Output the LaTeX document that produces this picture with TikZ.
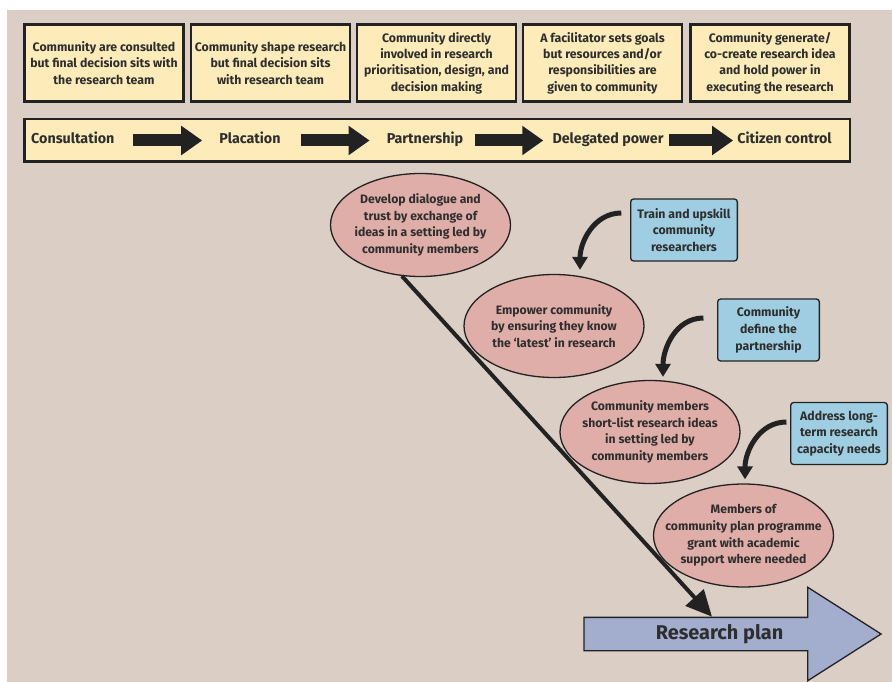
\documentclass[tikz,border=0pt]{standalone}
\usepackage{fontspec}
\setmainfont{Fira Sans}
\usetikzlibrary{positioning,shapes.geometric,shapes.arrows,arrows.meta}

\definecolor{bgc}{HTML}{DBCEC5}
\definecolor{boxyel}{HTML}{FDEBB9}
\definecolor{ideapink}{HTML}{E0AEA8}
\definecolor{taskblue}{HTML}{9FCEE2}
\definecolor{planblue}{HTML}{A3ADCE}
\definecolor{edge}{HTML}{222222}
\definecolor{ink}{HTML}{2E2E2E}

\begin{document}
\begin{tikzpicture}[x=1pt, y=-1pt,
  stage/.style={draw=edge, line width=2.5pt, fill=boxyel, minimum width=159pt, minimum height=77pt, align=center, text=ink, inner sep=0pt, font=\bfseries\fontsize{12.3}{16.3}\selectfont},
  lvl/.style={text=ink, inner sep=0pt, text height=10pt, text depth=3pt, font=\bfseries\fontsize{14.3}{16}\selectfont},
  blk/.style={draw=edge, line width=12pt, -{Triangle[length=21pt,width=28pt]}},
  idea/.style={ellipse, draw=edge, line width=1.3pt, fill=ideapink, minimum width=180pt, minimum height=103pt, align=center, text=ink, inner xsep=-20pt, inner ysep=-2pt, font=\bfseries\fontsize{12.2}{16.8}\selectfont},
  task/.style={draw=edge, line width=1.3pt, rounded corners=3pt, fill=taskblue, minimum height=62pt, align=center, text=ink, inner sep=0pt, font=\bfseries\fontsize{12.3}{16.8}\selectfont},
  feed/.style={draw=edge, line width=5pt, -{Triangle[length=13pt,width=15pt]}},
  trunk/.style={draw=edge, line width=4pt, -{Triangle[length=26pt,width=24pt]}},
  plan/.style={single arrow, draw=edge, line width=1.3pt, fill=planblue, minimum height=297pt, single arrow head extend=30pt, single arrow tip angle=65, text=ink, inner xsep=0pt, inner ysep=7pt, text height=14pt, text depth=4pt, font=\bfseries\fontsize{19.9}{22}\selectfont}]

  \useasboundingbox (0,0) rectangle (892,682);
  \fill[white] (0,0) rectangle (892,682);
  \fill[bgc] (7,10) rectangle (892,682);

  % Levels of involvement
  \node[stage] (s1) at (104,63) {Community are consulted\\but final decision sits with\\the research team};
  \node[stage] (s2) at (270.5,63) {Community shape research\\but final decision sits\\with research team};
  \node[stage] (s3) at (436.5,63) {Community directly\\involved in research\\prioritisation, design, and\\decision making};
  \node[stage] (s4) at (602.5,63) {A facilitator sets goals\\but resources and/or\\responsibilities are\\given to community};
  \node[stage] (s5) at (770,63) {Community generate/\\co-create research idea\\and hold power in\\executing the research};

  % Ladder bar
  \node[draw=edge, line width=2.5pt, fill=boxyel, minimum width=825.5pt, minimum height=42.5pt] (bar) at (437,140.5) {};
  \node[lvl, anchor=west] (consult) at (31,140.5) {Consultation};
  \node[lvl] (placat) at (250,140.5) {Placation};
  \node[lvl] (partner) at (425,140.5) {Partnership};
  \node[lvl] (deleg) at (608,140.5) {Delegated power};
  \node[lvl] (citizen) at (784.5,140.5) {Citizen control};

  \draw[blk, shorten <=18pt, shorten >=17pt] (consult.east) -- (placat.west);
  \draw[blk, shorten <=20pt, shorten >=17pt] (placat.east) -- (partner.west);
  \draw[blk, shorten <=12pt, shorten >=9pt] (partner.east) -- (deleg.west);
  \draw[blk, shorten <=5pt, shorten >=4pt] (deleg.east) -- (citizen.west);

  % Steps
  \node[idea] (e1) at (420.5,225) {Develop dialogue and\\trust by exchange of\\ideas in a setting led by\\community members};
  \node[idea] (e2) at (554,326) {Empower community\\by ensuring they know\\the ‘latest’ in research};
  \node[idea] (e3) at (650,432) {Community members\\short-list research ideas\\in setting led by\\community members};
  \node[idea] (e4) at (743.5,535.5) {Members of\\community plan programme\\grant with academic\\support where needed};

  % Support actions
  \node[task, minimum width=106.7pt] (b1) at (684,230) {Train and upskill\\community\\researchers};
  \node[task, minimum width=101.7pt] (b2) at (768.5,330) {Community\\define the\\partnership};
  \node[task, minimum width=96.7pt] (b3) at (839,433.5) {Address long-\\term research\\capacity needs};

  \draw[feed] ([xshift=-8.7pt, yshift=17pt]b1.west) to[out=180, in=90] ([xshift=26pt, yshift=4pt]e2.north);
  \draw[feed] ([xshift=-13.6pt, yshift=12pt]b2.west) to[out=180, in=90] ([xshift=13pt, yshift=3pt]e3.north);
  \draw[feed] ([xshift=-3.6pt, yshift=11.5pt]b3.west) to[out=180, in=90] ([xshift=1.5pt, yshift=4pt]e4.north);

  % Outcome
  \node[plan] (rp) at (719.5,634) {Research plan};
  \draw[trunk] (e1.250) -- ([xshift=-7.5pt]rp.north);

\end{tikzpicture}
\end{document}
